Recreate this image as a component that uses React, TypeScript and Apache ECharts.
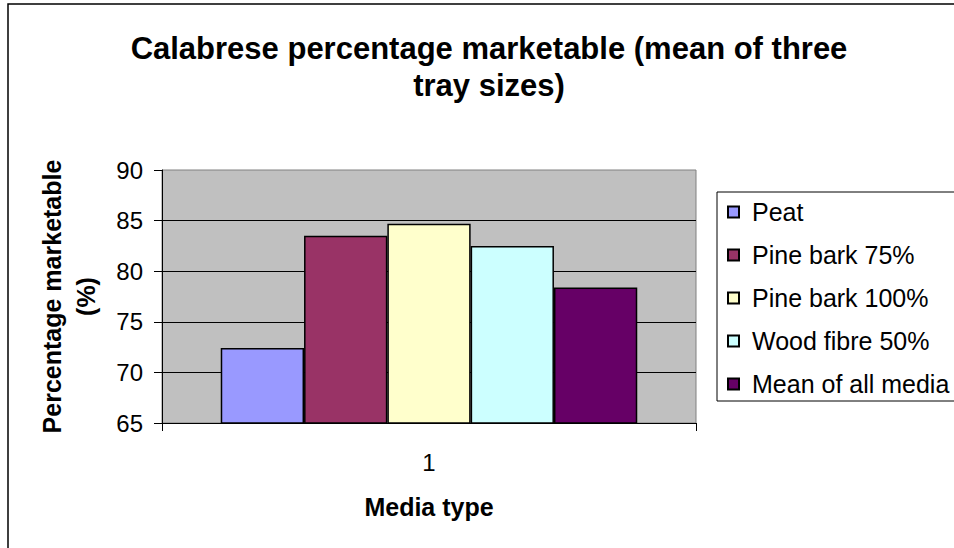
import React, { useEffect, useRef } from "react";
import * as echarts from "echarts";

const categories = ["1"];
const seriesNames = ["Peat", "Pine bark 75%", "Pine bark 100%", "Wood fibre 50%", "Mean of all media"];
const peat = [72.4];
const pineBark75 = [83.5];
const pineBark100 = [84.7];
const woodFibre50 = [82.5];
const meanAll = [78.4];
const seriesValues = [peat, pineBark75, pineBark100, woodFibre50, meanAll];
const colors = ["#9999FF", "#993366", "#FFFFCC", "#CCFFFF", "#660066"];
const yMin = 65;
const yMax = 90;
const yInterval = 5;

const FONT = "Arial, 'Liberation Sans', sans-serif";

export default function App() {
  const ref = useRef<HTMLDivElement>(null);
  useEffect(() => {
    if (!ref.current) return;
    const chart = echarts.init(ref.current, undefined, { renderer: "svg" });
    chart.setOption({
      animation: false,
      backgroundColor: "#ffffff",
      title: {
        text: "Calabrese percentage marketable (mean of three\ntray sizes)",
        left: 484,
        top: 25,
        textAlign: "center",
        textStyle: {
          fontFamily: FONT,
          fontWeight: "bold",
          fontSize: 31,
          lineHeight: 37,
          color: "#000",
        },
      },
      graphic: [
        {
          type: "rect",
          shape: { x: 8, y: 4, width: 1200, height: 800 },
          style: { fill: "none", stroke: "#000", lineWidth: 1.5 },
          silent: true,
          z: 100,
        },
        {
          type: "polyline",
          shape: { points: [[960, 192], [717, 192], [717, 401], [960, 401]] },
          style: { fill: "none", stroke: "#000", lineWidth: 1 },
          silent: true,
          z: 0,
        },
      ],
      legend: {
        orient: "vertical",
        left: 717,
        top: 192,
        padding: [6, 0, 3, 10],
        itemGap: 15,
        itemWidth: 11,
        itemHeight: 11,
        borderWidth: 0,
        backgroundColor: "transparent",
        icon: "rect",
        data: seriesNames,
        z: 10,
        textStyle: { fontFamily: FONT, fontSize: 25, color: "#000", lineHeight: 28, padding: [0, 0, 0, 8] },
      },
      grid: {
        left: 162,
        top: 170,
        width: 534,
        height: 253,
        show: true,
        backgroundColor: "#C0C0C0",
        borderColor: "#808080",
        borderWidth: 1,
      },
      xAxis: {
        type: "category",
        data: categories,
        boundaryGap: true,
        name: "Media type",
        nameLocation: "middle",
        nameGap: 71,
        nameTextStyle: { fontFamily: FONT, fontWeight: "bold", fontSize: 25, color: "#000" },
        axisLine: { lineStyle: { color: "#000", width: 1 } },
        axisTick: { show: true, length: 8, lineStyle: { color: "#000" } },
        axisLabel: { fontFamily: FONT, fontSize: 24, color: "#000", margin: 27 },
      },
      yAxis: {
        type: "value",
        min: yMin,
        max: yMax,
        interval: yInterval,
        name: "Percentage marketable\n(%)",
        nameLocation: "middle",
        nameRotate: 90,
        nameGap: 59,
        nameTextStyle: { fontFamily: FONT, fontWeight: "bold", fontSize: 25, color: "#000", lineHeight: 34 },
        axisLine: { show: true, lineStyle: { color: "#000", width: 1 } },
        axisTick: { show: true, length: 8, lineStyle: { color: "#000" } },
        axisLabel: { fontFamily: FONT, fontSize: 24, color: "#000", margin: 19 },
        splitLine: { show: true, showMaxLine: false, lineStyle: { color: "#000", width: 1 } },
      },
      series: seriesNames.map((name, i) => ({
        name,
        type: "bar",
        data: seriesValues[i],
        barGap: "0%",
        barCategoryGap: "22%",
        itemStyle: { color: colors[i], borderColor: "#000", borderWidth: 1.5 },
      })),
    });
    return () => chart.dispose();
  }, []);
  return (
    <div
      ref={ref}
      style={{ position: "absolute", left: 0, top: 0, width: 954, height: 548 }}
    />
  );
}
